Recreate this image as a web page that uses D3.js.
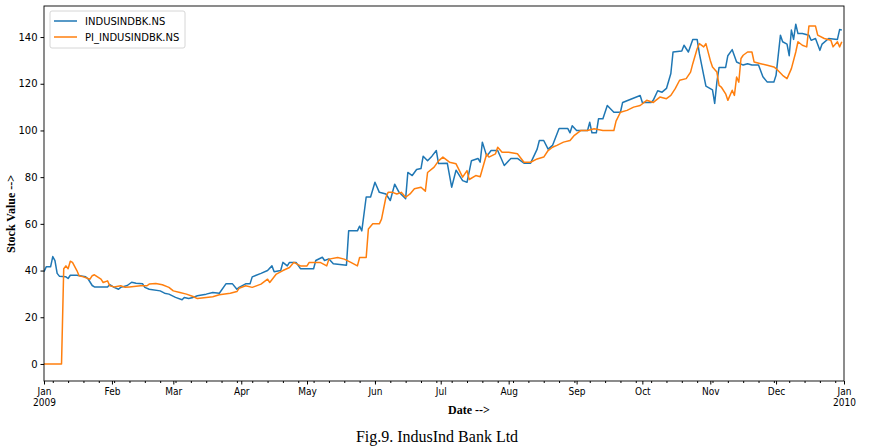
<!DOCTYPE html>
<html>
<head>
<meta charset="utf-8">
<script src="https://cdn.jsdelivr.net/npm/d3@7"></script>
<style>
  html, body { margin: 0; padding: 0; background: #fff; }
  svg { display: block; }
</style>
</head>
<body>
<svg id="chart" width="870" height="447"></svg>
<script>
// ---- Data ----
const seriesNames = ["INDUSINDBK.NS", "PI_INDUSINDBK.NS"];
const startDate = "2009-01-01";
const endDate = "2010-01-01";

// days after 1 Jan 2009
const blueDays = [0,1,3,4,5,6,7,10,11,12,15,19,20,22,23,29,30,32,34,35,38,40,42,45,46,48,53,55,57,60,63,64,66,68,70,74,77,80,83,86,88,89,92,94,95,99,102,104,105,108,109,111,112,115,117,123,124,127,128,130,132,138,139,143,144,145,147,149,151,153,156,158,160,162,165,166,168,170,172,173,175,177,179,180,184,186,188,191,193,195,198,199,200,202,204,207,210,213,216,219,222,225,226,228,230,232,235,239,240,241,243,248,249,250,252,253,255,257,260,263,264,268,272,273,277,278,280,282,284,286,287,291,292,294,296,298,299,301,302,305,306,307,308,311,312,314,316,319,321,323,326,328,330,333,334,336,337,339,340,341,342,343,344,346,349,350,352,354,355,358,362,363,364];
const blueValues = [39.5,41.6,41.6,46,44.3,38.8,37.6,37.3,36.6,38,38,37.3,36.6,33.6,33,33,34,32.8,32,32.8,33.6,35,34.6,34.3,32.8,32,31.3,30.3,29.9,28.5,27.5,28.5,28,28.5,29.2,29.9,30.6,30.3,34.3,34.3,32,32.8,34.3,34.3,37.3,38.8,40,42,39.5,40,43.5,42,43.5,43.5,40.8,40.8,44.3,45.7,44.3,45,42.9,42.3,57,57,59,57,71.5,71.5,77.8,73.5,72.8,70,77,73.5,70.8,82,80.7,83.3,83.7,89,87,89,91.4,85.8,86,75.7,83,78.5,77.8,87,88,86.4,95,89,91.4,91.4,85,88,88,86,86,92,95.7,95.7,92,93.6,100.8,100.8,99,102,100,100,103.5,99,99,105,105,110.7,107.8,107.8,112,113.5,115,112,112,113,117,116.4,118,124.4,133.6,134,136.5,133.6,139,139,133,123.6,119,117.4,111.6,120.7,127,127,132,134.6,129.3,128,128.6,128,128,123,120.7,120.7,123.6,140.8,138,137,132,143,139,145.5,141.5,141.5,140.8,138.6,139.4,134.3,137,139.4,139,143.2,143];

const orangeDays = [0,8,9,10,11,12,13,15,16,18,21,22,23,26,27,29,30,32,35,37,39,44,47,48,51,54,57,59,62,65,68,70,74,77,80,85,88,89,92,95,99,102,103,106,109,112,114,117,120,121,126,129,130,134,137,140,143,144,147,148,150,153,154,156,157,159,161,163,165,167,169,172,174,175,178,180,182,185,188,191,193,194,197,199,202,203,206,207,209,212,216,219,222,225,228,230,232,234,237,240,242,245,248,251,255,260,261,263,266,269,272,275,278,281,284,286,288,290,293,295,296,298,299,301,302,304,305,307,308,309,311,312,314,315,316,317,318,319,321,323,324,327,330,333,334,337,339,341,343,344,346,348,349,352,353,356,359,360,362,363,364];
const orangeValues = [0,0,40.8,42,40.8,44,43.5,40,37.8,37.3,36.3,37.8,38.2,36.3,34.9,35.6,33.5,33,33.5,32.8,33,33.5,33.5,34.2,34.5,33.9,32.8,31.3,30.6,29.9,28.9,28,28.5,28.8,29.6,30.3,31,32.4,33.5,32.8,34.2,36.3,34.9,38.5,40,41.3,43.5,42,42,43.5,43.5,42,44.9,45.6,44.9,43.5,42,45.6,45.6,57.8,60,60,62,71.4,73.5,73.5,72.8,73.5,71.4,72.8,75,75.7,74,82,84.3,87,88.6,86.4,85.7,80,82.8,79,80.7,80.2,90,88.6,90,92.8,90.7,90.7,90,86.4,86.4,87.8,88.6,91.4,92.8,93.6,95,95.7,97.9,100,100,100.7,100,100,104,107.8,108.6,110,110.7,112.9,112,114.3,113.6,115,117.9,121.5,122.2,125,128.6,135,137.2,135.8,137.2,130,127.2,125,119.3,118.6,115.7,112.9,117.2,115,122.9,120.7,130.8,132.2,133.6,133.6,129.3,128.6,127.9,127.2,126.5,123.6,122.2,126.5,133.6,138,136.5,135.8,144.7,144.7,140.8,139.4,138.6,135.8,138,135.8,138];

const yTicks = [0, 20, 40, 60, 80, 100, 120, 140];
const colors = ["#1f77b4", "#ff7f0e"];

// ---- Layout ----
const svg = d3.select("#chart");
const L = 44, R = 844, T = 6, B = 381;

const t0 = new Date(startDate + "T00:00:00Z");
const t1 = new Date(endDate + "T00:00:00Z");
const toDate = d => d3.utcDay.offset(t0, d);

const x = d3.scaleUtc().domain([t0, t1]).range([L, R]);
const y = d3.scaleLinear().domain([-7.3, 153.3]).range([B, T]);

const series = [
  blueDays.map((d, i) => ({date: toDate(d), value: blueValues[i]})),
  orangeDays.map((d, i) => ({date: toDate(d), value: orangeValues[i]}))
];

// clip
svg.append("defs").append("clipPath").attr("id", "clip")
  .append("rect").attr("x", L).attr("y", T).attr("width", R - L).attr("height", B - T);

const line = d3.line().x(d => x(d.date)).y(d => y(d.value));

const plot = svg.append("g").attr("clip-path", "url(#clip)");
series.forEach((s, i) => {
  plot.append("path").datum(s)
    .attr("fill", "none")
    .attr("stroke", colors[i])
    .attr("stroke-width", 1.5)
    .attr("stroke-linejoin", "round")
    .attr("d", line);
});

// frame
svg.append("rect").attr("x", L).attr("y", T).attr("width", R - L).attr("height", B - T)
  .attr("fill", "none").attr("stroke", "#000").attr("stroke-width", 0.9);

// y axis
const yAxis = d3.axisLeft(y).tickValues(yTicks).tickSize(3.5).tickPadding(3);
const gy = svg.append("g").attr("transform", `translate(${L},0)`).call(yAxis);
gy.select(".domain").remove();
gy.selectAll("text").attr("font-family", "DejaVu Sans, sans-serif").attr("font-size", 10).attr("fill", "#000");
gy.selectAll("line").attr("stroke", "#000");

// x axis minor (weekly)
const minor = d3.axisBottom(x).ticks(d3.utcMonday.every(1)).tickSize(2).tickFormat("");
const gxm = svg.append("g").attr("transform", `translate(0,${B})`).call(minor);
gxm.select(".domain").remove();
gxm.selectAll("line").attr("stroke", "#000");

// x axis major (monthly)
const monthFmt = d3.utcFormat("%b");
const major = d3.axisBottom(x).ticks(d3.utcMonth.every(1)).tickSize(3.5).tickPadding(3).tickFormat(d => monthFmt(d));
const gx = svg.append("g").attr("transform", `translate(0,${B})`).call(major);
gx.select(".domain").remove();
gx.selectAll("line").attr("stroke", "#000");
gx.selectAll("text")
  .attr("font-family", "DejaVu Sans Condensed, DejaVu Sans, sans-serif")
  .attr("font-size", 10).attr("fill", "#000")
  .each(function(d) {
    if (d.getUTCMonth() === 0) {
      d3.select(this).append("tspan").attr("x", 0).attr("dy", "1.1em").text(d.getUTCFullYear());
    }
  });

// axis labels
svg.append("text").attr("x", 469).attr("y", 414)
  .attr("text-anchor", "middle")
  .attr("font-family", "Liberation Serif, Times New Roman, serif")
  .attr("font-weight", "bold").attr("font-size", 12)
  .text("Date -->");

svg.append("text").attr("transform", "translate(15,214) rotate(-90)")
  .attr("text-anchor", "middle")
  .attr("font-family", "Liberation Serif, Times New Roman, serif")
  .attr("font-weight", "bold").attr("font-size", 12)
  .text("Stock Value -->");

svg.append("text").attr("x", 437).attr("y", 442)
  .attr("text-anchor", "middle")
  .attr("font-family", "Liberation Serif, Times New Roman, serif")
  .attr("font-size", 16)
  .text("Fig.9. IndusInd Bank Ltd");

// legend
const lg = svg.append("g");
lg.append("rect").attr("x", 50).attr("y", 11).attr("width", 135).attr("height", 37)
  .attr("rx", 2).attr("fill", "#fff").attr("fill-opacity", 0.8)
  .attr("stroke", "#ccc").attr("stroke-width", 0.8);
seriesNames.forEach((n, i) => {
  const yy = 21 + i * 16;
  lg.append("line").attr("x1", 54).attr("x2", 77).attr("y1", yy).attr("y2", yy)
    .attr("stroke", colors[i]).attr("stroke-width", 1.5);
  lg.append("text").attr("x", 85).attr("y", yy).attr("dy", "0.35em")
    .attr("font-family", "DejaVu Sans, sans-serif").attr("font-size", 10).attr("fill", "#000")
    .text(n);
});
</script>
</body>
</html>
